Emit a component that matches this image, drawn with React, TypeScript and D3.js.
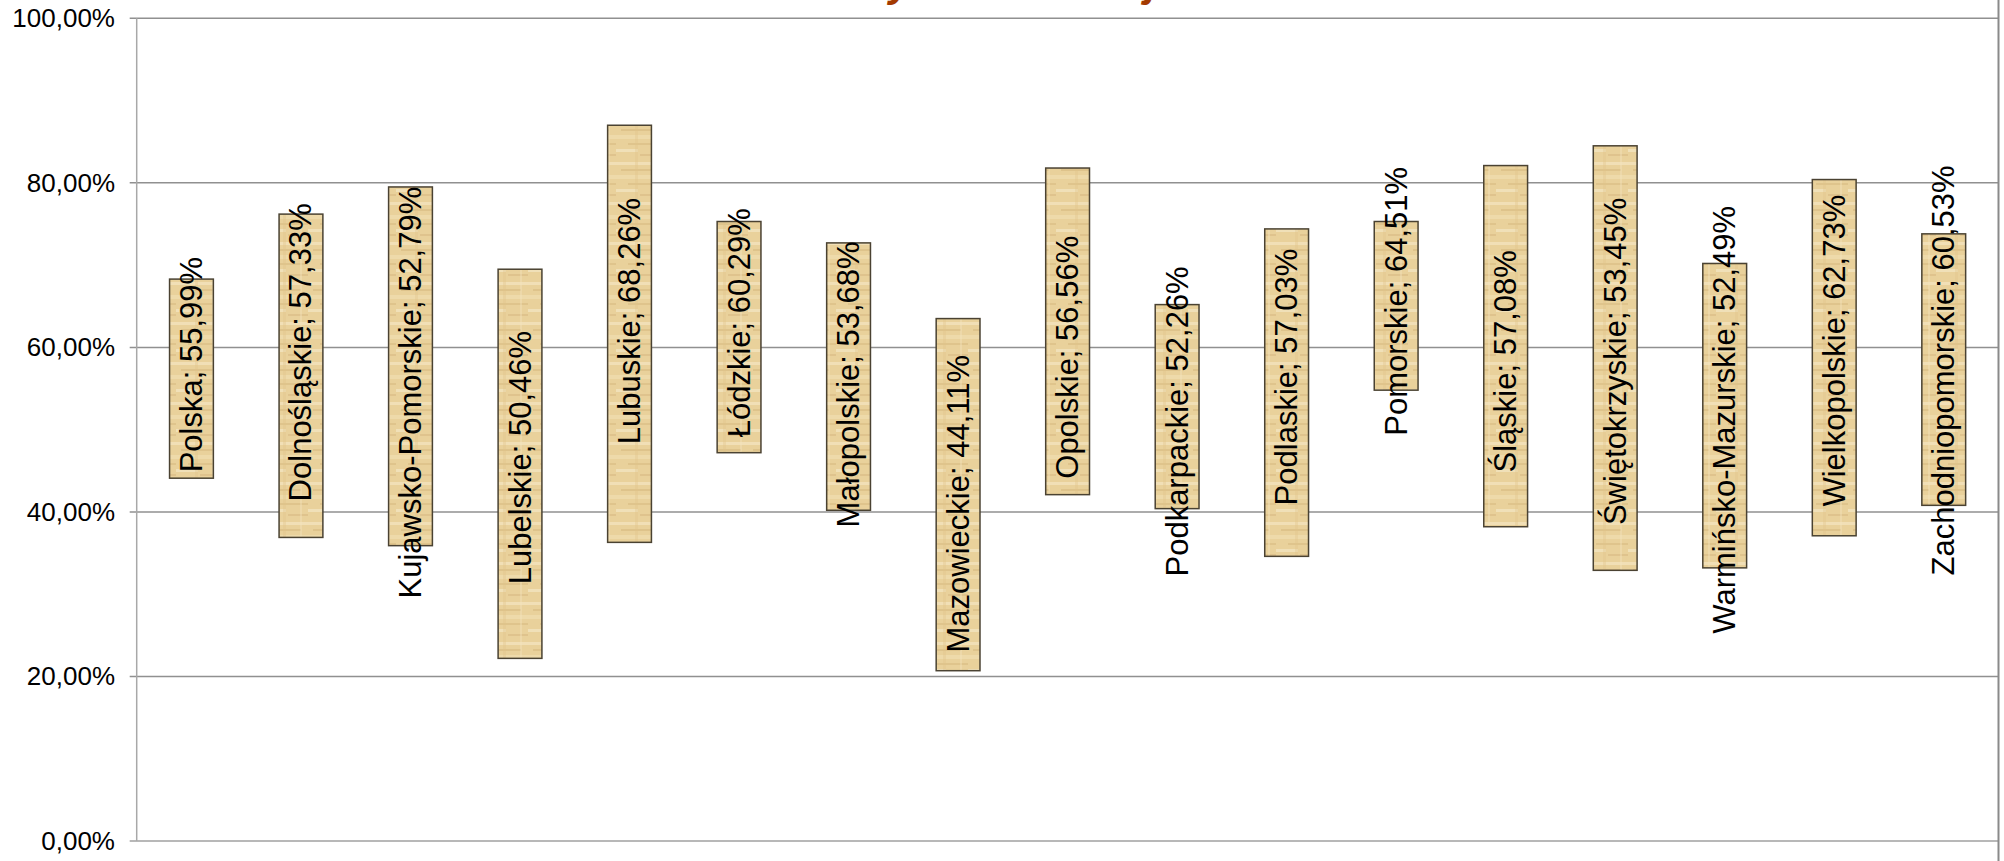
import React from 'react';
import * as d3 from 'd3';

// województwa (first entry is the whole country)
const categories = [
  'Polska',
  'Dolnośląskie',
  'Kujawsko-Pomorskie',
  'Lubelskie',
  'Lubuskie',
  'Łódzkie',
  'Małopolskie',
  'Mazowieckie',
  'Opolskie',
  'Podkarpackie',
  'Podlaskie',
  'Pomorskie',
  'Śląskie',
  'Świętokrzyskie',
  'Warmińsko-Mazurskie',
  'Wielkopolskie',
  'Zachodniopomorskie',
];

// bottom and top of each floating bar (fraction)
const lowValues = [
  0.441, 0.369, 0.359, 0.222, 0.363, 0.472, 0.402, 0.207, 0.421, 0.404, 0.346,
  0.548, 0.382, 0.329, 0.332, 0.371, 0.408,
];
const highValues = [
  0.683, 0.762, 0.795, 0.695, 0.87, 0.753, 0.727, 0.635, 0.818, 0.652, 0.744,
  0.753, 0.821, 0.845, 0.702, 0.804, 0.738,
];

// value printed in the data label
const labelValues = [
  0.5599, 0.5733, 0.5279, 0.5046, 0.6826, 0.6029, 0.5368, 0.4411, 0.5656, 0.5226,
  0.5703, 0.6451, 0.5708, 0.5345, 0.5249, 0.6273, 0.6053,
];

// level (on the value axis) where each data label is centred
const labelLevels = [
  0.579, 0.594, 0.545, 0.466, 0.632, 0.63, 0.555, 0.41, 0.588, 0.51, 0.564,
  0.656, 0.583, 0.583, 0.512, 0.596, 0.572,
];

const yTicks = [0, 0.2, 0.4, 0.6, 0.8, 1];

const W = 2004;
const H = 861;
const plot = { left: 136.7, right: 1998.5, top: 18.3, bottom: 841 };
const FONT = '"Liberation Sans", Arial, Helvetica, sans-serif';

const pct = (v: number) => (v * 100).toFixed(2).replace('.', ',') + '%';

const App = () => {
  const x = d3
    .scaleBand<string>()
    .domain(categories)
    .range([plot.left, plot.right])
    .paddingInner(0.6)
    .paddingOuter(0.3);

  const y = d3.scaleLinear().domain([0, 1]).range([plot.bottom, plot.top]);

  const rows = categories.map((name, i) => ({
    name,
    low: lowValues[i],
    high: highValues[i],
    value: labelValues[i],
    level: labelLevels[i],
  }));

  return (
    <svg
      width={W}
      height={H}
      style={{ position: 'absolute', left: 0, top: 0, background: '#fff' }}
    >
      <defs>
        <pattern id="papyrus" width="44" height="40" patternUnits="userSpaceOnUse">
          <rect width="44" height="40" fill="#e9d19b" />
          <rect x="0" y="2" width="44" height="3" fill="#f4e4bf" opacity="0.75" />
          <rect x="5" y="9" width="32" height="2" fill="#d3b57c" opacity="0.5" />
          <rect x="0" y="15" width="44" height="4" fill="#f1dfb3" opacity="0.65" />
          <rect x="12" y="23" width="32" height="2" fill="#d6b980" opacity="0.55" />
          <rect x="0" y="29" width="22" height="3" fill="#f5e8c8" opacity="0.65" />
          <rect x="24" y="34" width="20" height="2" fill="#d0b078" opacity="0.4" />
          <rect x="19" y="0" width="3" height="40" fill="#dec28a" opacity="0.35" />
          <rect x="36" y="0" width="2" height="40" fill="#f3e3bd" opacity="0.4" />
        </pattern>
      </defs>

      {/* title, mostly above the visible area (only descenders show) */}
      <text
        x={709}
        y={-4}
        fontFamily={FONT}
        fontSize={42}
        fontWeight="bold"
        fontStyle="italic"
        fill="#a33a00"
      >
        Zakres wyników w województwach
      </text>

      {/* gridlines */}
      {yTicks.map((t) => (
        <line
          key={'g' + t}
          x1={plot.left - 7}
          x2={plot.right}
          y1={y(t)}
          y2={y(t)}
          stroke={t === 0 ? '#a0a0a0' : '#909090'}
          strokeWidth={1.5}
        />
      ))}

      {/* y axis */}
      <line
        x1={plot.left}
        x2={plot.left}
        y1={plot.top}
        y2={plot.bottom}
        stroke="#a8a8a8"
        strokeWidth={1.5}
      />
      {yTicks.map((t) => (
        <text
          key={'t' + t}
          x={115}
          y={y(t)}
          textAnchor="end"
          dominantBaseline="central"
          fontFamily={FONT}
          fontSize={26}
          fill="#000"
        >
          {pct(t)}
        </text>
      ))}

      {/* right border */}
      <line
        x1={plot.right}
        x2={plot.right}
        y1={0}
        y2={H}
        stroke="#8a8a8a"
        strokeWidth={2}
      />

      {/* floating bars */}
      {rows.map((d) => (
        <rect
          key={'b' + d.name}
          x={x(d.name)}
          y={y(d.high)}
          width={x.bandwidth()}
          height={y(d.low) - y(d.high)}
          fill="url(#papyrus)"
          stroke="#4a4232"
          strokeWidth={1.5}
        />
      ))}

      {/* data labels */}
      {rows.map((d) => {
        const cx = (x(d.name) as number) + x.bandwidth() / 2;
        const cy = y(d.level);
        return (
          <text
            key={'l' + d.name}
            transform={`translate(${cx}, ${cy}) rotate(-90)`}
            textAnchor="middle"
            dominantBaseline="central"
            fontFamily={FONT}
            fontSize={31}
            fill="#000"
          >
            {d.name}; {pct(d.value)}
          </text>
        );
      })}
    </svg>
  );
};

export default App;
